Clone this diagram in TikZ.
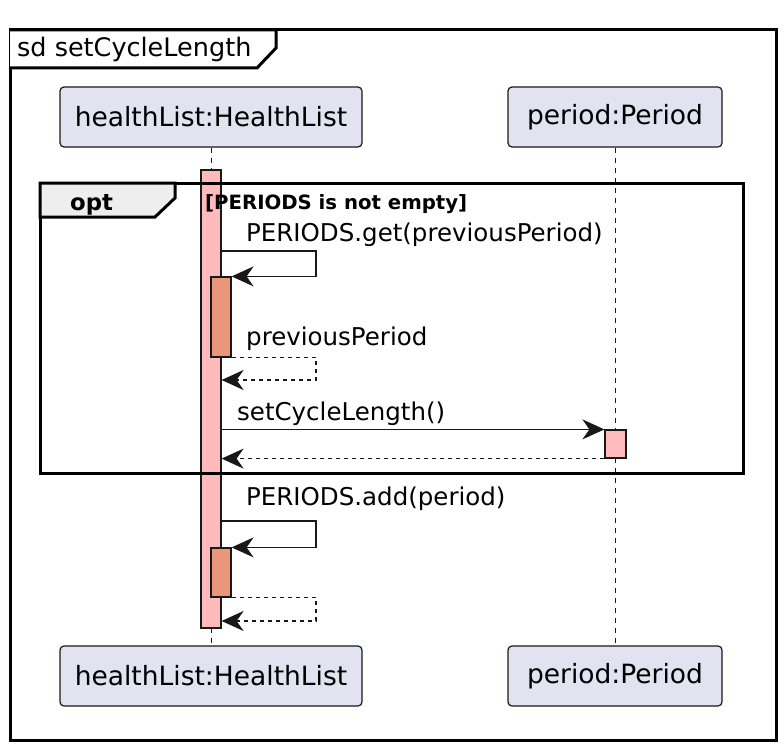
\documentclass[tikz,border=0pt]{standalone}
\usepackage{fontspec}
\setmainfont{DejaVu Sans}
\usetikzlibrary{arrows.meta}

\definecolor{partecipante}{HTML}{E2E2F0}
\definecolor{attivo}{HTML}{FFBBBB}
\definecolor{annidato}{HTML}{E9967A}
\definecolor{bordo}{HTML}{181818}
\definecolor{grigio}{HTML}{EEEEEE}

\tikzset{
  part/.style={draw=bordo, line width=1.2pt, fill=partecipante, rounded corners=4pt,
    minimum height=60, inner sep=0pt, font=\fontsize{26.5}{30}\selectfont},
  barra/.style={draw=bordo, line width=1.2pt, fill=attivo, minimum width=20, inner sep=0pt},
  barrina/.style={barra, fill=annidato},
  vita/.style={bordo, line width=1pt, dash pattern=on 5pt off 5pt},
  cornice/.style={line width=3pt, line join=miter},
  msg/.style={bordo, line width=1.5pt, -{Stealth[length=22pt, width=20pt, inset=7pt]}},
  ritorno/.style={msg, dash pattern=on 4pt off 4pt},
  etichetta/.style={anchor=base west, inner sep=0pt, font=\fontsize{24.5}{28}\selectfont},
  guardia/.style={anchor=base west, inner sep=0pt, font=\fontsize{19.7}{22}\selectfont\bfseries}
}

\begin{document}
\begin{tikzpicture}[x=1pt, y=-1pt]
  \useasboundingbox (0,0) rectangle (784,749);

  % partecipanti
  \node[part, minimum width=302] (hl) at (211,117) {healthList:HealthList};
  \node[part, minimum width=214] (pe) at (615,117) {period:Period};
  \node[part, minimum width=302] (hlb) at (211,676) {healthList:HealthList};
  \node[part, minimum width=214] (peb) at (615,676) {period:Period};

  % linee di vita
  \draw[vita] (hl.south) -- (hlb.north);
  \draw[vita] (pe.south) -- (peb.north);

  % attivazioni
  \node[barra, minimum height=458] (att) at (211,399) {};
  \node[barrina, minimum height=80] (n1) at (221,317) {};
  \node[barrina, minimum height=49] (n2) at (221,572.5) {};
  \node[barra, minimum width=21, minimum height=28] (pb) at (615.5,444) {};

  % cornice sd
  \draw[cornice] (10,30) rectangle (776,740);
  \draw[cornice, fill=white] (10,30) -- (276,30) -- (276,48) -- (257,68) -- (10,68);
  \node[etichetta, font=\fontsize{25.5}{30}\selectfont] (titolo) at (17,57) {sd setCycleLength};

  % blocco opt
  \draw[cornice] (40,183) rectangle (743,473);
  \draw[cornice, fill=grigio] (40,183) -- (175,183) -- (175,198) -- (155,217) -- (40,217) -- cycle;
  \node[guardia, font=\fontsize{22.8}{26}\selectfont\bfseries] (opt) at (70,210) {opt};
  \node[guardia] (cond) at (205,209) {[PERIODS is not empty]};

  % messaggi
  \coordinate (r1) at (316,251);
  \coordinate (r2) at (316,380);
  \coordinate (r3) at (316,521);
  \coordinate (r4) at (316,621);

  \node[etichetta] (l1) at (246,241) {PERIODS.get(previousPeriod)};
  \draw[msg] (att.east |- r1) -- (r1) -- (r1 |- n1.north) -- (n1.north east);

  \node[etichetta] (l2) at (246,345) {previousPeriod};
  \draw[ritorno] (n1.south east) -- (r1 |- n1.south) -- (r2) -- (att.east |- r2);

  \node[etichetta] (l3) at (237,420) {setCycleLength()};
  \draw[msg] (att.east |- pb.north) -- (pb.north west);
  \draw[ritorno] (pb.south west) -- (att.east |- pb.south);

  \node[etichetta] (l4) at (246,505) {PERIODS.add(period)};
  \draw[msg] (att.east |- r3) -- (r3) -- (r3 |- n2.north) -- (n2.north east);
  \draw[ritorno] (n2.south east) -- (r3 |- n2.south) -- (r4) -- (att.east |- r4);
\end{tikzpicture}
\end{document}
